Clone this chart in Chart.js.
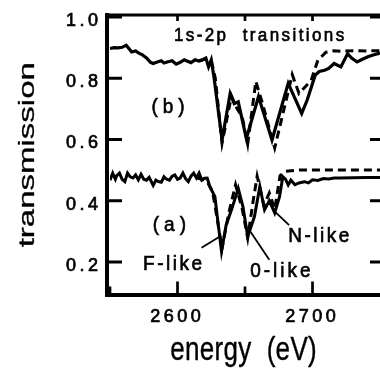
<!DOCTYPE html>
<html>
<head>
<meta charset="utf-8">
<script src="https://cdn.jsdelivr.net/npm/chart.js@4/dist/chart.umd.min.js"></script>
<style>
  body { margin: 0; background: #fff; }
</style>
</head>
<body>
<canvas id="grafico" width="380" height="373"></canvas>
<script>
// curva (b): medida (continua) y calculada (discontinua)
const bMedE = [2550, 2553, 2556, 2559, 2562, 2564, 2566, 2569, 2571, 2574, 2577, 2580, 2582, 2585, 2588, 2590, 2593, 2596, 2599, 2602, 2605, 2607, 2610, 2613, 2616, 2618, 2621, 2623, 2625, 2627, 2633, 2639, 2642, 2645, 2651, 2660, 2670, 2682, 2692, 2696, 2702, 2705, 2709, 2712, 2716, 2721, 2726, 2729, 2733, 2737, 2741, 2745, 2750];
const bMedT = [0.897, 0.900, 0.899, 0.901, 0.908, 0.897, 0.886, 0.889, 0.883, 0.876, 0.866, 0.852, 0.848, 0.853, 0.857, 0.850, 0.854, 0.857, 0.846, 0.852, 0.860, 0.856, 0.851, 0.860, 0.856, 0.859, 0.866, 0.837, 0.860, 0.805, 0.598, 0.750, 0.717, 0.723, 0.603, 0.740, 0.598, 0.783, 0.685, 0.728, 0.810, 0.822, 0.826, 0.832, 0.848, 0.837, 0.880, 0.866, 0.853, 0.862, 0.870, 0.876, 0.882];
const bCalE = [2616, 2619, 2622, 2625, 2628, 2633, 2640, 2644, 2648, 2652, 2658, 2663, 2672, 2685, 2690, 2699, 2704, 2710, 2716, 2722, 2730, 2740, 2750];
const bCalT = [0.857, 0.861, 0.864, 0.858, 0.800, 0.588, 0.742, 0.702, 0.672, 0.585, 0.790, 0.717, 0.572, 0.812, 0.750, 0.793, 0.859, 0.885, 0.890, 0.888, 0.890, 0.889, 0.890];

// curva (a)
const aMedE = [2550, 2552, 2554, 2555, 2557, 2559, 2561, 2563, 2565, 2567, 2569, 2571, 2573, 2575, 2577, 2579, 2582, 2584, 2586, 2588, 2590, 2592, 2594, 2596, 2598, 2600, 2602, 2604, 2606, 2608, 2610, 2612, 2614, 2616, 2618, 2620, 2622, 2624, 2627.7, 2632.6, 2636, 2640, 2645, 2648.5, 2652, 2657, 2661, 2664.5, 2668, 2672, 2675.6, 2678, 2680, 2682, 2684, 2687, 2690, 2694, 2697, 2700, 2704, 2708, 2712, 2716, 2720, 2730, 2740, 2750];
const aMedT = [0.467, 0.490, 0.470, 0.482, 0.490, 0.470, 0.462, 0.490, 0.478, 0.474, 0.484, 0.468, 0.486, 0.470, 0.467, 0.476, 0.450, 0.467, 0.462, 0.460, 0.478, 0.470, 0.467, 0.480, 0.484, 0.470, 0.474, 0.490, 0.472, 0.462, 0.480, 0.490, 0.474, 0.490, 0.467, 0.473, 0.474, 0.446, 0.413, 0.234, 0.320, 0.370, 0.440, 0.380, 0.283, 0.348, 0.446, 0.370, 0.400, 0.360, 0.413, 0.478, 0.470, 0.451, 0.467, 0.452, 0.458, 0.462, 0.458, 0.468, 0.466, 0.472, 0.471, 0.474, 0.474, 0.475, 0.476, 0.476];
const aCalE = [2614, 2618, 2622, 2626, 2633, 2638, 2643, 2648, 2652, 2656, 2659, 2664, 2668, 2672, 2676, 2680, 2690, 2700, 2750];
const aCalT = [0.475, 0.470, 0.462, 0.430, 0.245, 0.360, 0.452, 0.372, 0.278, 0.398, 0.480, 0.385, 0.425, 0.372, 0.482, 0.496, 0.500, 0.500, 0.500];

// lineas de las etiquetas F-like, 0-like, N-like
const lineaF = [[2617.8, 0.246], [2631.1, 0.282]];
const lineaO = [[2668.0, 0.207], [2653.2, 0.304]];
const lineaN = [[2682.7, 0.320], [2670.7, 0.370]];

const xTicks = [2600, 2700];
const xTickLabels = ['2600', '2700'];
const xMenores = [2550, 2650];
const yTicks = [0.2, 0.4, 0.6, 0.8, 1.0];
const yTickLabels = ['0.2', '0.4', '0.6', '0.8', '1.0'];

const FUENTE = "'Liberation Sans', Arial, sans-serif";

function puntos(xs, ys) {
  return xs.map((x, i) => ({ x: x, y: ys[i] }));
}
function par(p) {
  return p.map(q => ({ x: q[0], y: q[1] }));
}

function textoEspaciado(ctx, txt, x, y, o) {
  ctx.save();
  ctx.translate(x, y);
  if (o.rot) ctx.rotate(o.rot);
  ctx.scale(o.sx || 1, o.sy || 1);
  ctx.font = o.font;
  ctx.fillStyle = '#000';
  ctx.strokeStyle = '#000';
  ctx.lineWidth = o.grueso || 0;
  ctx.textAlign = 'left';
  ctx.textBaseline = 'alphabetic';
  const letras = [...txt];
  const anchos = letras.map(c => ctx.measureText(c).width);
  const sp = o.sp || 0;
  const total = anchos.reduce((a, b) => a + b, 0) + sp * (letras.length - 1);
  let cx = o.align === 'right' ? -total : (o.align === 'left' ? 0 : -total / 2);
  letras.forEach((c, i) => {
    ctx.fillText(c, cx, 0);
    if (o.grueso) ctx.strokeText(c, cx, 0);
    cx += anchos[i] + sp;
  });
  ctx.restore();
}

const marco = {
  id: 'marco',
  afterDraw(chart) {
    const ctx = chart.ctx;
    const a = chart.chartArea;
    const xs = chart.scales.x, ys = chart.scales.y;
    ctx.save();
    ctx.strokeStyle = '#000';
    ctx.lineCap = 'butt';

    // borde
    ctx.lineWidth = 4;
    ctx.beginPath();
    ctx.moveTo(a.left - 3, a.top - 4);
    ctx.lineTo(a.left - 3, a.bottom + 4.5);
    ctx.moveTo(a.left - 5, a.bottom + 2.5);
    ctx.lineTo(380, a.bottom + 2.5);
    ctx.stroke();
    ctx.lineWidth = 3;
    ctx.beginPath();
    ctx.moveTo(a.left - 5, a.top - 2);
    ctx.lineTo(380, a.top - 2);
    ctx.stroke();

    // marcas hacia dentro
    ctx.lineWidth = 3;
    ctx.beginPath();
    yTicks.forEach(v => {
      const py = ys.getPixelForValue(v);
      ctx.moveTo(a.left - 1, py); ctx.lineTo(a.left + 12, py);
      ctx.moveTo(a.right, py); ctx.lineTo(a.right - 10, py);
    });
    ctx.stroke();
    ctx.lineWidth = 2.7;
    ctx.beginPath();
    xTicks.forEach(v => {
      const px = xs.getPixelForValue(v);
      ctx.moveTo(px, a.bottom + 1); ctx.lineTo(px, a.bottom - 11);
      ctx.moveTo(px, a.top - 1); ctx.lineTo(px, a.top + 4);
    });
    xMenores.forEach(v => {
      const px = xs.getPixelForValue(v);
      ctx.moveTo(px, a.bottom + 1); ctx.lineTo(px, a.bottom - 6);
      if (v > 2550) { ctx.moveTo(px, a.top - 1); ctx.lineTo(px, a.top + 4); }
    });
    ctx.stroke();
    ctx.restore();

    // textos de los ejes
    yTicks.forEach((v, i) => {
      textoEspaciado(ctx, yTickLabels[i], 98, ys.getPixelForValue(v) + 9,
        { font: '18px ' + FUENTE, sp: 3.5, align: 'right', grueso: 0.7 });
    });
    xTicks.forEach((v, i) => {
      textoEspaciado(ctx, xTickLabels[i], xs.getPixelForValue(v) - 2, 322,
        { font: '18px ' + FUENTE, sp: 3.5, align: 'center', grueso: 0.7 });
    });
    textoEspaciado(ctx, 'energy  (eV)', (a.left + 381) / 2 - 2, 360,
      { font: '26px ' + FUENTE, sy: 1.3, sp: 0.3, align: 'center', grueso: 0.3 });
    textoEspaciado(ctx, 'transmission', 33.5, (a.top + a.bottom) / 2,
      { font: '22px ' + FUENTE, sx: 1.5, rot: -Math.PI / 2, align: 'center', grueso: 0.3 });

    // anotaciones
    const nota = (t, x, y, sp) => textoEspaciado(ctx, t, xs.getPixelForValue(x), ys.getPixelForValue(y),
      { font: '19px ' + FUENTE, sy: 1.1, sp: sp, align: 'center', grueso: 0.6 });
    textoEspaciado(ctx, '1s-2p  transitions', xs.getPixelForValue(2660.4), ys.getPixelForValue(0.92),
      { font: '17px ' + FUENTE, sy: 1.1, sp: 2.4, align: 'center', grueso: 0.6 });
    nota('(b)', 2593, 0.685, 5);
    nota('(a)', 2594, 0.302, 5);
    nota('F-like', 2596.3, 0.173, 2.5);
    nota('0-like', 2676.2, 0.150, 3);
    nota('N-like', 2704.6, 0.264, 2.5);
  }
};

function serie(data, ancho, guion) {
  return {
    data: data,
    borderColor: '#000',
    borderWidth: ancho,
    borderDash: guion || [],
    pointRadius: 0,
    tension: 0,
    fill: false
  };
}

new Chart(document.getElementById('grafico'), {
  type: 'line',
  data: {
    datasets: [
      serie(puntos(bCalE, bCalT), 3, [8, 5]),
      serie(puntos(aCalE, aCalT), 3, [8, 5]),
      serie(puntos(bMedE, bMedT), 3.2),
      serie(puntos(aMedE, aMedT), 3),
      serie(par(lineaF), 1.8),
      serie(par(lineaO), 1.8),
      serie(par(lineaN), 1.8)
    ]
  },
  options: {
    responsive: false,
    animation: false,
    layout: { padding: { left: 110, top: 17, right: -1, bottom: 80.5 } },
    plugins: { legend: { display: false }, tooltip: { enabled: false } },
    scales: {
      x: { type: 'linear', min: 2550, max: 2750, display: false },
      y: { min: 0.1, max: 1.0, display: false }
    }
  },
  plugins: [marco]
});
</script>
</body>
</html>
